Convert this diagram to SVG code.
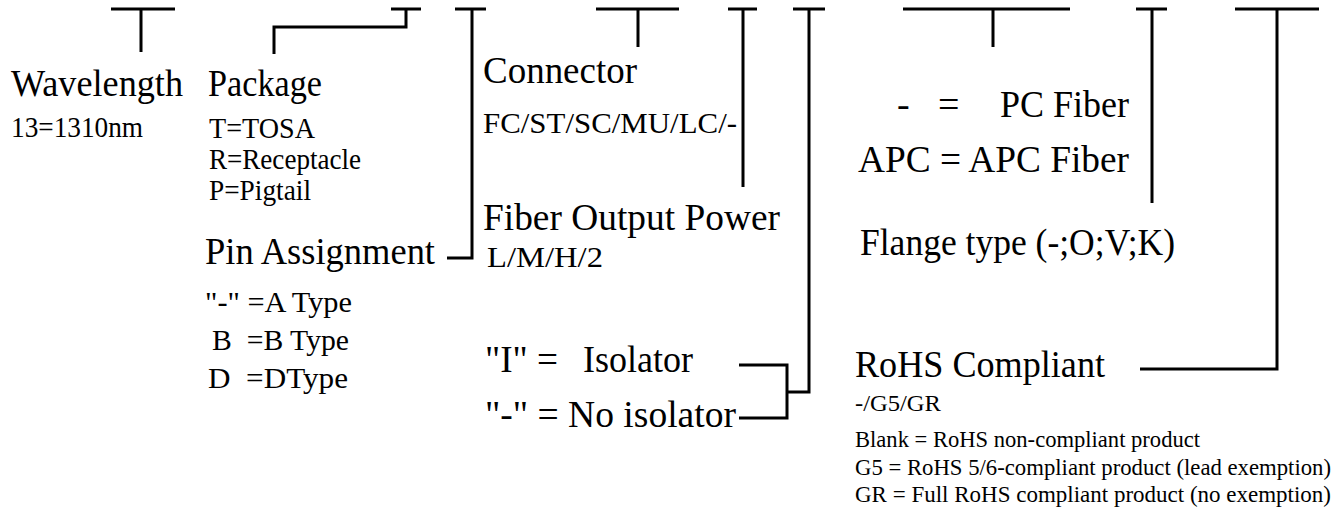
<svg xmlns="http://www.w3.org/2000/svg" width="1341" height="509" viewBox="0 0 1341 509" font-family="'Liberation Serif', 'Times New Roman', serif">
<style>
text{font-family:"Liberation Serif","Times New Roman",serif;fill:#000;white-space:pre}
.t{font-size:38px}
.s{font-size:29px}
.x{font-size:23px}
.x2{font-size:22.5px}
.c path{fill:none;stroke:#000;stroke-width:3;stroke-linecap:butt;stroke-linejoin:miter}
</style>
<rect width="1341" height="509" fill="#fff"/>
<g id="connectors" class="c">
<path d="M111,9H175M141,9V52"/>
<path d="M391,9H421M406,9V27H274V54"/>
<path d="M455,9H486M472,9V258H447"/>
<path d="M596,9H679M638,9V47"/>
<path d="M728,9H757M743,9V187"/>
<path d="M793,9H825M809,9V392H787M739,365H787V418H739"/>
<path d="M903,9H1070M993,9V47"/>
<path d="M1136,9H1167M1152,9V203"/>
<path d="M1235,9H1319M1277,9V369H1140"/>
</g>
<g id="wavelength">
<text class="t" x="11" y="96" textLength="172" lengthAdjust="spacingAndGlyphs">Wavelength</text>
<text class="s" x="11" y="137" textLength="132" lengthAdjust="spacingAndGlyphs">13=1310nm</text>
</g>
<g id="package">
<text class="t" x="208" y="96" textLength="114" lengthAdjust="spacingAndGlyphs">Package</text>
<text class="s" x="209" y="138" textLength="106" lengthAdjust="spacingAndGlyphs">T=TOSA</text>
<text class="s" x="209" y="169" textLength="152" lengthAdjust="spacingAndGlyphs">R=Receptacle</text>
<text class="s" x="209" y="200" textLength="102" lengthAdjust="spacingAndGlyphs">P=Pigtail</text>
</g>
<g id="pin-assignment">
<text class="t" x="205" y="264" textLength="230" lengthAdjust="spacingAndGlyphs">Pin Assignment</text>
<text class="s" x="205" y="312" textLength="147" lengthAdjust="spacingAndGlyphs">"-" =A Type</text>
<text class="s" x="212" y="350" textLength="137" lengthAdjust="spacingAndGlyphs">B  =B Type</text>
<text class="s" x="208" y="388" textLength="140" lengthAdjust="spacingAndGlyphs">D  =DType</text>
</g>
<g id="connector">
<text class="t" x="483" y="83" textLength="154" lengthAdjust="spacingAndGlyphs">Connector</text>
<text class="s" x="483" y="133" textLength="254" lengthAdjust="spacingAndGlyphs">FC/ST/SC/MU/LC/-</text>
</g>
<g id="fiber-output-power">
<text class="t" x="483" y="230" textLength="297" lengthAdjust="spacingAndGlyphs">Fiber Output Power</text>
<text class="s" x="487" y="267" textLength="116" lengthAdjust="spacingAndGlyphs">L/M/H/2</text>
</g>
<g id="isolator">
<text class="t" x="485" y="372"><tspan x="485" textLength="73" lengthAdjust="spacingAndGlyphs">"I" =</tspan><tspan x="583" textLength="110" lengthAdjust="spacingAndGlyphs">Isolator</tspan></text>
<text class="t" x="485" y="427" textLength="251" lengthAdjust="spacingAndGlyphs">"-" = No isolator</text>
</g>
<g id="fiber-type">
<text class="t" y="117"><tspan x="897">-</tspan><tspan x="938">=</tspan><tspan x="1000" textLength="129" lengthAdjust="spacingAndGlyphs">PC Fiber</tspan></text>
<text class="t" x="858" y="172" textLength="271" lengthAdjust="spacingAndGlyphs">APC = APC Fiber</text>
</g>
<g id="flange-type">
<text class="t" x="860" y="255" textLength="315" lengthAdjust="spacingAndGlyphs">Flange type (-;O;V;K)</text>
</g>
<g id="rohs">
<text class="t" x="855" y="377" textLength="250" lengthAdjust="spacingAndGlyphs">RoHS Compliant</text>
<text class="x" x="855" y="411" textLength="86" lengthAdjust="spacingAndGlyphs">-/G5/GR</text>
<text class="x" x="855" y="447" textLength="345" lengthAdjust="spacingAndGlyphs">Blank = RoHS non-compliant product</text>
<text class="x2" x="855" y="475" textLength="476" lengthAdjust="spacingAndGlyphs">G5 = RoHS 5/6-compliant product (lead exemption)</text>
<text class="x2" x="855" y="502" textLength="476" lengthAdjust="spacingAndGlyphs">GR = Full RoHS compliant product (no exemption)</text>
</g>
</svg>
